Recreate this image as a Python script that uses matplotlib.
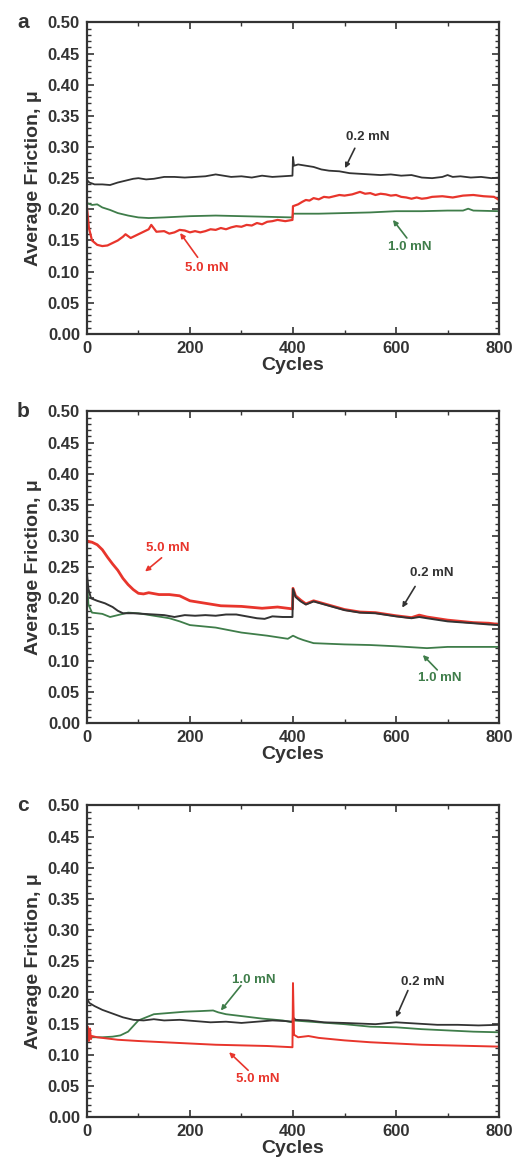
import matplotlib.pyplot as plt
from matplotlib.ticker import MultipleLocator

plt.rcParams['font.family'] = ['Liberation Sans', 'DejaVu Sans']
plt.rcParams['font.weight'] = 'bold'

INK = '#333333'
RED = '#e8352c'
GREEN = '#3f7d4a'

# ---- panel a ----
a_x_02 = [0, 5, 15, 30, 45, 60, 75, 90, 100, 115, 130, 150, 170, 190, 210, 230, 250, 265,
          280, 300, 320, 340, 360, 380, 399, 400, 402, 410, 425, 440, 455, 470, 490, 510,
          530, 550, 570, 590, 610, 630, 650, 670, 690, 700, 710, 725, 745, 765, 785, 800]
a_y_02 = [0.247, 0.243, 0.240, 0.240, 0.239, 0.243, 0.246, 0.249, 0.250, 0.248, 0.249,
          0.252, 0.252, 0.251, 0.252, 0.253, 0.256, 0.254, 0.252, 0.253, 0.251, 0.254,
          0.252, 0.253, 0.254, 0.284, 0.270, 0.272, 0.270, 0.268, 0.264, 0.262, 0.261,
          0.258, 0.257, 0.256, 0.255, 0.256, 0.254, 0.255, 0.251, 0.250, 0.252, 0.255,
          0.252, 0.253, 0.251, 0.252, 0.250, 0.251]

a_x_50 = [0, 4, 10, 20, 30, 40, 50, 60, 70, 75, 85, 95, 110, 120, 125, 135, 150, 160, 170,
          180, 190, 200, 210, 220, 230, 240, 250, 260, 270, 280, 290, 300, 310, 320, 330,
          340, 350, 360, 370, 385, 399, 400, 410, 418, 425, 432, 440, 450, 460, 470, 480,
          490, 500, 515, 530, 540, 550, 560, 570, 580, 590, 600, 610, 620, 630, 640, 650,
          660, 670, 690, 710, 730, 750, 770, 790, 800]
a_y_50 = [0.205, 0.170, 0.150, 0.143, 0.141, 0.142, 0.146, 0.150, 0.156, 0.160, 0.154,
          0.158, 0.164, 0.168, 0.175, 0.164, 0.165, 0.161, 0.163, 0.167, 0.166, 0.163,
          0.165, 0.163, 0.165, 0.168, 0.167, 0.170, 0.168, 0.171, 0.173, 0.172, 0.175,
          0.174, 0.178, 0.176, 0.180, 0.181, 0.183, 0.181, 0.183, 0.205, 0.208, 0.212,
          0.215, 0.214, 0.218, 0.216, 0.220, 0.219, 0.221, 0.223, 0.222, 0.224, 0.228,
          0.225, 0.226, 0.223, 0.225, 0.224, 0.222, 0.223, 0.220, 0.219, 0.217, 0.219,
          0.217, 0.218, 0.220, 0.221, 0.219, 0.222, 0.223, 0.221, 0.220, 0.215]

a_x_10 = [0, 10, 20, 30, 45, 60, 80, 100, 120, 150, 200, 250, 300, 350, 399, 400, 450,
          500, 550, 600, 650, 700, 730, 740, 750, 800]
a_y_10 = [0.210, 0.207, 0.208, 0.203, 0.199, 0.194, 0.190, 0.187, 0.186, 0.187, 0.189,
          0.190, 0.189, 0.188, 0.187, 0.193, 0.193, 0.194, 0.195, 0.197, 0.197, 0.198,
          0.198, 0.201, 0.198, 0.197]

# ---- panel b ----
b_x_50 = [0, 10, 20, 30, 40, 50, 60, 70, 80, 90, 100, 110, 120, 140, 160, 180, 200, 230,
          260, 300, 340, 370, 399, 400, 405, 415, 425, 440, 470, 500, 530, 560, 600, 630,
          645, 660, 700, 750, 780, 800]
b_y_50 = [0.292, 0.290, 0.286, 0.278, 0.266, 0.255, 0.245, 0.232, 0.222, 0.214, 0.208,
          0.207, 0.209, 0.206, 0.206, 0.204, 0.196, 0.192, 0.188, 0.187, 0.184, 0.186,
          0.183, 0.216, 0.204, 0.197, 0.191, 0.196, 0.189, 0.182, 0.178, 0.177, 0.172,
          0.169, 0.173, 0.170, 0.165, 0.161, 0.160, 0.158]

b_x_02 = [0, 3, 8, 20, 35, 50, 60, 70, 90, 110, 130, 150, 170, 190, 210, 230, 250, 270,
          290, 310, 330, 345, 360, 380, 399, 400, 405, 415, 425, 440, 470, 500, 530, 560,
          600, 630, 645, 660, 700, 750, 780, 800]
b_y_02 = [0.240, 0.215, 0.200, 0.196, 0.192, 0.186, 0.180, 0.176, 0.176, 0.175, 0.174,
          0.173, 0.170, 0.173, 0.172, 0.173, 0.172, 0.174, 0.174, 0.171, 0.168, 0.167,
          0.171, 0.170, 0.170, 0.215, 0.202, 0.195, 0.190, 0.195, 0.188, 0.181, 0.177,
          0.176, 0.171, 0.168, 0.170, 0.168, 0.163, 0.160, 0.158, 0.157]

b_x_10 = [0, 3, 10, 30, 45, 60, 80, 100, 130, 160, 180, 200, 250, 300, 350, 390, 400, 410,
          420, 440, 500, 550, 600, 640, 660, 680, 700, 800]
b_y_10 = [0.235, 0.190, 0.177, 0.175, 0.170, 0.173, 0.177, 0.176, 0.172, 0.168, 0.163,
          0.157, 0.153, 0.145, 0.140, 0.135, 0.140, 0.136, 0.133, 0.128, 0.126, 0.125,
          0.123, 0.121, 0.120, 0.121, 0.122, 0.122]

# ---- panel c ----
c_x_02 = [0, 5, 15, 30, 50, 70, 90, 110, 130, 150, 180, 210, 240, 270, 300, 330, 360, 385,
          399, 400, 405, 430, 460, 500, 530, 560, 600, 640, 680, 720, 760, 800]
c_y_02 = [0.190, 0.183, 0.178, 0.172, 0.166, 0.160, 0.156, 0.155, 0.157, 0.155, 0.156,
          0.154, 0.152, 0.153, 0.151, 0.153, 0.155, 0.154, 0.153, 0.160, 0.156, 0.155,
          0.152, 0.151, 0.150, 0.149, 0.152, 0.150, 0.148, 0.148, 0.147, 0.148]

c_x_10 = [0, 10, 30, 50, 65, 80, 90, 100, 115, 130, 160, 190, 220, 245, 255, 270, 300,
          340, 380, 399, 400, 450, 500, 550, 600, 650, 700, 750, 800]
c_y_10 = [0.130, 0.128, 0.128, 0.129, 0.131, 0.137, 0.146, 0.155, 0.160, 0.165, 0.167,
          0.169, 0.170, 0.171, 0.168, 0.165, 0.162, 0.158, 0.155, 0.152, 0.155, 0.152,
          0.149, 0.145, 0.144, 0.141, 0.139, 0.137, 0.136]

c_x_50 = [0, 2, 4, 6, 8, 10, 20, 40, 60, 100, 150, 200, 250, 300, 350, 399, 400, 402,
          410, 430, 450, 500, 550, 600, 650, 700, 750, 800]
c_y_50 = [0.120, 0.145, 0.122, 0.142, 0.125, 0.130, 0.128, 0.126, 0.124, 0.122, 0.120,
          0.118, 0.116, 0.115, 0.114, 0.112, 0.215, 0.132, 0.128, 0.130, 0.127, 0.123,
          0.120, 0.118, 0.116, 0.115, 0.114, 0.113]

panels = [
    ('a', [(a_x_02, a_y_02, INK, 1.3), (a_x_10, a_y_10, GREEN, 1.3), (a_x_50, a_y_50, RED, 1.6)],
     [('0.2 mN', INK, (546, 0.316), (520, 0.298), (501, 0.266)),
      ('5.0 mN', RED, (233, 0.106), (215, 0.123), (181, 0.162)),
      ('1.0 mN', GREEN, (627, 0.139), (621, 0.154), (594, 0.183))]),
    ('b', [(b_x_10, b_y_10, GREEN, 1.3), (b_x_50, b_y_50, RED, 2.0), (b_x_02, b_y_02, INK, 1.4)],
     [('5.0 mN', RED, (157, 0.280), (145, 0.265), (113, 0.243)),
      ('0.2 mN', INK, (670, 0.241), (637, 0.219), (612, 0.185)),
      ('1.0 mN', GREEN, (685, 0.072), (680, 0.085), (652, 0.109))]),
    ('c', [(c_x_10, c_y_10, GREEN, 1.3), (c_x_02, c_y_02, INK, 1.3), (c_x_50, c_y_50, RED, 1.4)],
     [('1.0 mN', GREEN, (324, 0.220), (299, 0.211), (260, 0.171)),
      ('0.2 mN', INK, (652, 0.216), (623, 0.203), (600, 0.160)),
      ('5.0 mN', RED, (332, 0.061), (313, 0.075), (276, 0.104))]),
]

fig = plt.figure(figsize=(5.14, 11.66), dpi=100)
bottoms = [0.7136, 0.380, 0.042]

for (letter, series, notes), bottom in zip(panels, bottoms):
    ax = fig.add_axes([0.169, bottom, 0.802, 0.2672])
    for xs, ys, col, lw in series:
        ax.plot(xs, ys, color=col, lw=lw)
    for text, col, txy, p0, p1 in notes:
        ax.text(txy[0], txy[1], text, color=col, fontsize=9.5, fontweight='bold',
                ha='center', va='center')
        ax.annotate('', xy=p1, xytext=p0,
                    arrowprops=dict(arrowstyle='-|>', color=col, lw=1.2,
                                    mutation_scale=7, shrinkA=0, shrinkB=0))
    ax.set_xlim(0, 800)
    ax.set_ylim(0, 0.5)
    ax.xaxis.set_major_locator(MultipleLocator(200))
    ax.xaxis.set_minor_locator(MultipleLocator(100))
    ax.yaxis.set_major_locator(MultipleLocator(0.05))
    ax.yaxis.set_minor_locator(MultipleLocator(0.01))
    ax.yaxis.set_major_formatter(plt.FormatStrFormatter('%.2f'))
    ax.tick_params(which='both', direction='in', top=True, right=True, color=INK)
    ax.tick_params(which='major', length=5, width=1.2, labelsize=12, labelcolor=INK, pad=5)
    ax.tick_params(which='minor', length=3, width=1.0)
    for s in ax.spines.values():
        s.set_color(INK)
        s.set_linewidth(1.6)
    ax.set_xlabel('Cycles', fontsize=14, fontweight='bold', color=INK, labelpad=1)
    ax.set_ylabel('Average Friction, \u03bc', fontsize=14, fontweight='bold', color=INK,
                  labelpad=4)
    ax.text(-0.155, 1.0, letter, transform=ax.transAxes, fontsize=15, fontweight='bold',
            color=INK, ha='center', va='center')

fig.savefig('out.png', dpi=100)
